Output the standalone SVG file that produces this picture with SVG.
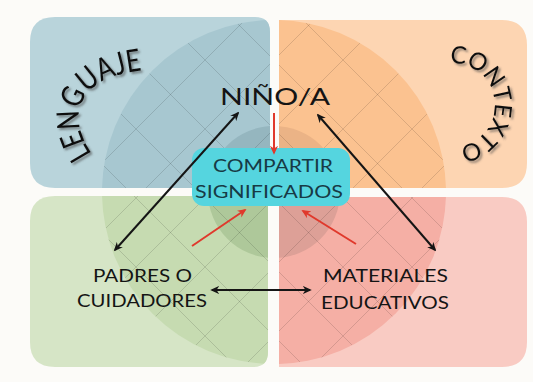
<svg xmlns="http://www.w3.org/2000/svg" width="533" height="382" viewBox="0 0 533 382">
<style>
.lbl{font-family:Lato,"Liberation Sans",sans-serif;font-weight:400;fill:#141414;text-anchor:middle}
.box{font-family:Lato,"Liberation Sans",sans-serif;font-weight:400;fill:#173a45;text-anchor:middle}
.arc{font-family:Lato,"Liberation Sans",sans-serif;font-weight:400;fill:#111}
.grid line{stroke:#000;stroke-opacity:0.13;stroke-width:1}
.blk{stroke:#151515;stroke-width:2;fill:none;marker-start:url(#ah);marker-end:url(#ah)}
.red{stroke:#e0392c;stroke-width:2;fill:none;marker-end:url(#ahr)}
</style>
<defs>
<filter id="sh" x="-20%" y="-20%" width="140%" height="140%">
<feDropShadow dx="2" dy="2" stdDeviation="1.3" flood-color="#444" flood-opacity="0.6"/>
</filter>
<clipPath id="cTL"><path d="M55,17 H255 Q270,17 270,32 V188 H55 Q30,188 30,163 V42 Q30,17 55,17 Z"/></clipPath>
<clipPath id="cTR"><path d="M279,20 H502 Q527,20 527,45 V163 Q527,188 502,188 H279 Z"/></clipPath>
<clipPath id="cBL"><path d="M55,196 H268 V352 Q268,367 253,367 H55 Q30,367 30,342 V221 Q30,196 55,196 Z"/></clipPath>
<clipPath id="cBR"><path d="M279,197 H502 Q527,197 527,222 V342 Q527,367 502,367 H279 Z"/></clipPath>
<clipPath id="cBig"><circle cx="274" cy="192" r="172"/></clipPath>
<g id="grid" class="grid" clip-path="url(#cBig)">
<line x1="285" y1="-20" x2="-135" y2="400"/>
<line x1="354" y1="-20" x2="-66" y2="400"/>
<line x1="423" y1="-20" x2="3" y2="400"/>
<line x1="492" y1="-20" x2="72" y2="400"/>
<line x1="561" y1="-20" x2="141" y2="400"/>
<line x1="630" y1="-20" x2="210" y2="400"/>
<line x1="699" y1="-20" x2="279" y2="400"/>
<line x1="-151" y1="-20" x2="269" y2="400"/>
<line x1="-82" y1="-20" x2="338" y2="400"/>
<line x1="-13" y1="-20" x2="407" y2="400"/>
<line x1="56" y1="-20" x2="476" y2="400"/>
<line x1="125" y1="-20" x2="545" y2="400"/>
<line x1="194" y1="-20" x2="614" y2="400"/>
<line x1="263" y1="-20" x2="683" y2="400"/>
</g>
<marker id="ah" viewBox="0 0 10 10" refX="8" refY="5" markerWidth="9" markerHeight="9" markerUnits="userSpaceOnUse" orient="auto-start-reverse">
<path d="M0,0.5 L10,5 L0,9.5 L3,5 Z" fill="#151515"/>
</marker>
<marker id="ahr" viewBox="0 0 10 10" refX="8" refY="5" markerWidth="9" markerHeight="9" markerUnits="userSpaceOnUse" orient="auto">
<path d="M0,0.5 L10,5 L0,9.5 L3,5 Z" fill="#e0392c"/>
</marker>
<path id="pL" d="M92,154 C66,116 76,76 146,70"/>
<path id="pC" d="M449.8,63.1 A42,42 0 0 1 455.6,146.9"/>
</defs>

<rect width="533" height="382" fill="#fcfbf8"/>

<g id="quadrants">
<g id="q-lenguaje" clip-path="url(#cTL)">
<rect x="0" y="0" width="533" height="382" fill="#b9d4db"/>
<circle cx="274" cy="192" r="172" fill="#a7c7d0"/>
<circle cx="274" cy="192" r="66" fill="#95b6bf"/>
<use href="#grid"/>
</g>
<g id="q-contexto" clip-path="url(#cTR)">
<rect x="0" y="0" width="533" height="382" fill="#fdd5b2"/>
<circle cx="274" cy="192" r="172" fill="#fbc290"/>
<circle cx="274" cy="192" r="66" fill="#ebb386"/>
<use href="#grid"/>
</g>
<g id="q-padres" clip-path="url(#cBL)">
<rect x="0" y="0" width="533" height="382" fill="#d6e5c6"/>
<circle cx="274" cy="192" r="172" fill="#c6dbb1"/>
<circle cx="274" cy="192" r="66" fill="#aec89a"/>
<use href="#grid"/>
</g>
<g id="q-materiales" clip-path="url(#cBR)">
<rect x="0" y="0" width="533" height="382" fill="#f9cbc3"/>
<circle cx="274" cy="192" r="172" fill="#f5afa5"/>
<circle cx="274" cy="192" r="66" fill="#dda097"/>
<use href="#grid"/>
</g>
</g>

<g id="lenguaje" filter="url(#sh)">
<text class="arc" font-size="31"><textPath href="#pL" textLength="126" lengthAdjust="spacingAndGlyphs">LENGUAJE</textPath></text>
</g>
<g id="contexto" filter="url(#sh)">
<text class="arc" font-size="24"><textPath href="#pC" textLength="128" lengthAdjust="spacingAndGlyphs">CONTEXTO</textPath></text>
</g>

<g id="nino">
<text class="lbl" x="275" y="105" font-size="24" textLength="110" lengthAdjust="spacingAndGlyphs">NIÑO/A</text>
</g>

<g id="compartir">
<rect x="192" y="148" width="158" height="58" rx="12" fill="#55d5df"/>
<text class="box" x="273" y="172" font-size="18" textLength="120" lengthAdjust="spacingAndGlyphs">COMPARTIR</text>
<text class="box" x="269" y="198" font-size="18" textLength="148" lengthAdjust="spacingAndGlyphs">SIGNIFICADOS</text>
</g>

<g id="padres">
<text class="lbl" x="142.5" y="282" font-size="18" textLength="99" lengthAdjust="spacingAndGlyphs">PADRES O</text>
<text class="lbl" x="142" y="307" font-size="18" textLength="130" lengthAdjust="spacingAndGlyphs">CUIDADORES</text>
</g>

<g id="materiales">
<text class="lbl" x="385.5" y="282" font-size="18" textLength="125" lengthAdjust="spacingAndGlyphs">MATERIALES</text>
<text class="lbl" x="385" y="309" font-size="18" textLength="128" lengthAdjust="spacingAndGlyphs">EDUCATIVOS</text>
</g>

<g id="connectors">
<line class="blk" x1="115" y1="250" x2="238" y2="113"/>
<line class="blk" x1="318" y1="115" x2="435" y2="250"/>
<line class="blk" x1="212" y1="290" x2="310" y2="290"/>
<line class="red" x1="274" y1="113" x2="274" y2="153"/>
<line class="red" x1="192" y1="246" x2="245" y2="210"/>
<line class="red" x1="356" y1="244" x2="303" y2="211"/>
</g>
</svg>
